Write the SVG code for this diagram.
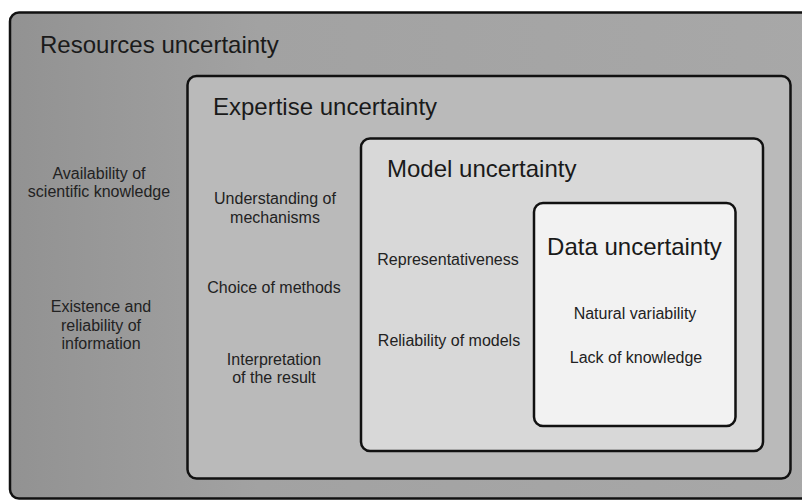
<svg xmlns="http://www.w3.org/2000/svg" width="802" height="500" viewBox="0 0 802 500">
<defs>
<linearGradient id="gOuter" x1="0" y1="0" x2="1" y2="0">
<stop offset="0" stop-color="#929292"/>
<stop offset="0.3" stop-color="#a2a2a2"/>
<stop offset="1" stop-color="#a8a8a8"/>
</linearGradient>
</defs>
<style>
.box{stroke:#111;stroke-width:2.5}
.title{font-family:"Liberation Sans",Arial,sans-serif;font-size:24px;fill:#1a1a1a}
.item{font-family:"Liberation Sans",Arial,sans-serif;font-size:16px;fill:#222;text-anchor:middle}
</style>
<rect width="802" height="500" fill="#ffffff"/>
<g id="resources">
<rect class="box" x="10" y="12.5" width="830" height="486" rx="9" fill="url(#gOuter)"/>
<text class="title" x="40" y="53">Resources uncertainty</text>
<text class="item" x="99" y="179">Availability of</text>
<text class="item" x="99" y="197">scientific knowledge</text>
<text class="item" x="101" y="312">Existence and</text>
<text class="item" x="101" y="331">reliability of</text>
<text class="item" x="101" y="349">information</text>
</g>
<g id="expertise">
<rect class="box" x="187.5" y="76" width="603" height="402.5" rx="9" fill="#bababa"/>
<text class="title" x="213" y="115">Expertise uncertainty</text>
<text class="item" x="275" y="204">Understanding of</text>
<text class="item" x="275" y="223">mechanisms</text>
<text class="item" x="274" y="293">Choice of methods</text>
<text class="item" x="274" y="365">Interpretation</text>
<text class="item" x="274" y="383">of the result</text>
</g>
<g id="model">
<rect class="box" x="361" y="138.5" width="402" height="312.5" rx="9" fill="#d8d8d8"/>
<text class="title" x="387" y="177">Model uncertainty</text>
<text class="item" x="448" y="265">Representativeness</text>
<text class="item" x="449" y="346">Reliability of models</text>
</g>
<g id="data">
<rect class="box" x="534" y="203" width="201.5" height="223" rx="9" fill="#f2f2f2"/>
<text class="title" x="634.5" y="255" text-anchor="middle">Data uncertainty</text>
<text class="item" x="635" y="319">Natural variability</text>
<text class="item" x="636" y="363">Lack of knowledge</text>
</g>
<g id="connectors"/>
</svg>
